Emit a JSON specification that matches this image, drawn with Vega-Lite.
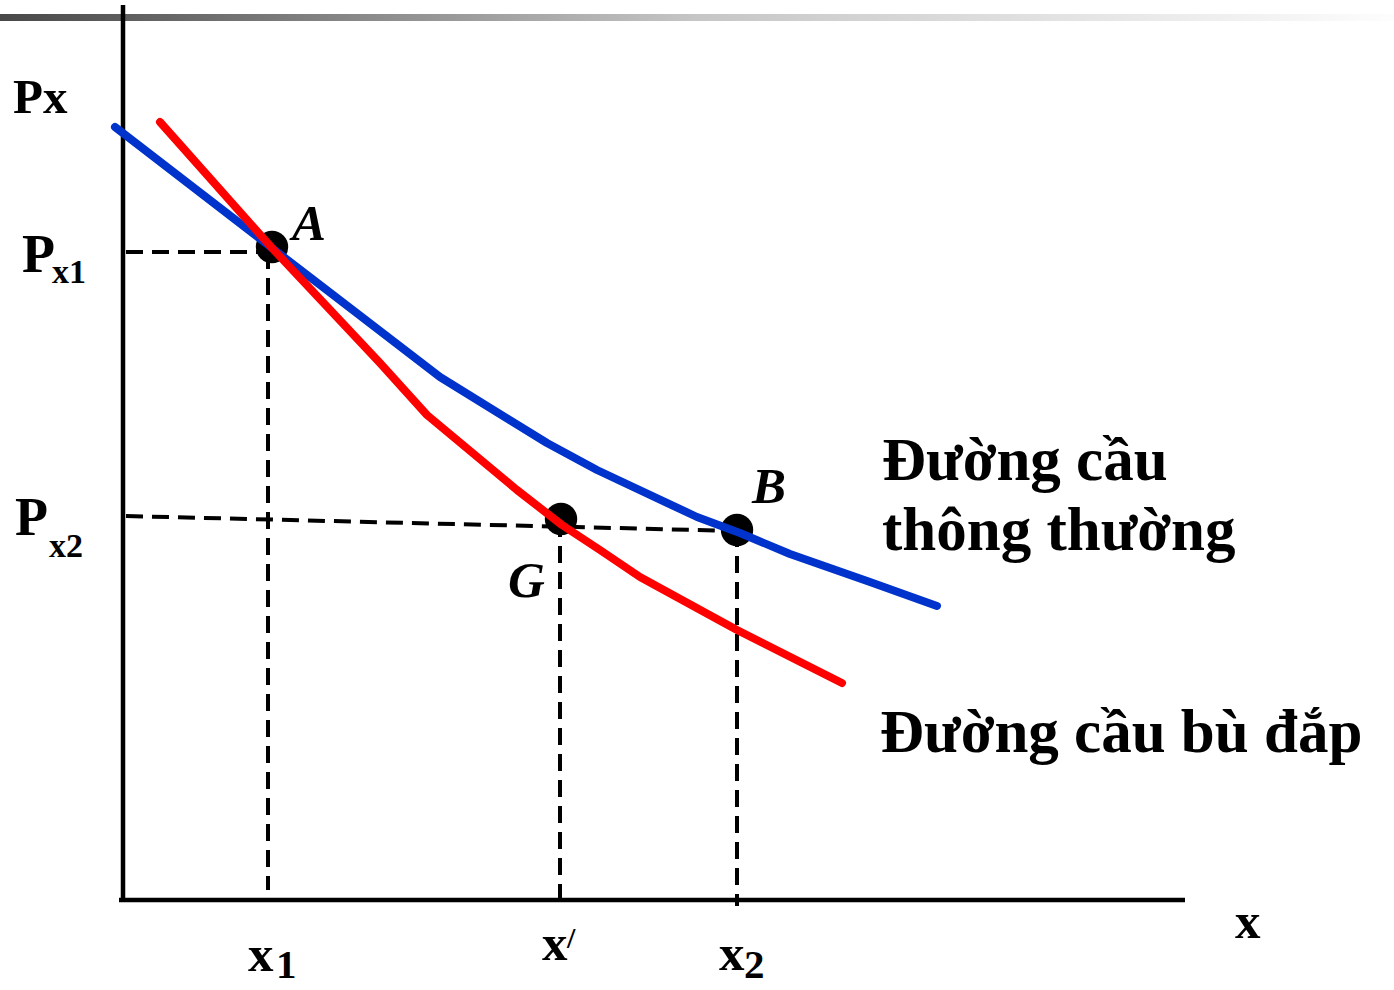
{
  "$schema": "https://vega.github.io/schema/vega-lite/v6.json",
  "width": 1394,
  "height": 990,
  "padding": 0,
  "autosize": {"type": "none"},
  "background": "white",
  "config": {"view": {"stroke": null}},
  "datasets": {
    "bar": [{"x": -122, "x2": 1272, "y": 886, "y2": 879}],
    "axes": [
      {"x": 1, "x2": 1, "y": 895, "y2": -2},
      {"x": -3, "x2": 1063, "y": 0, "y2": 0}
    ],
    "guides": [
      {"x": 4, "x2": 146, "y": 648, "y2": 648},
      {"x": 146, "x2": 146, "y": 648, "y2": 10},
      {"x": 4, "x2": 615, "y": 384, "y2": 369},
      {"x": 438, "x2": 438, "y": 380, "y2": 0},
      {"x": 615, "x2": 615, "y": 370, "y2": -6}
    ],
    "points": [
      {"name": "A", "x": 150, "y": 653},
      {"name": "G", "x": 439, "y": 381},
      {"name": "B", "x": 615, "y": 370}
    ],
    "curves": [
      {"curve": "normal", "x": -7, "y": 773},
      {"curve": "normal", "x": 150, "y": 652},
      {"curve": "normal", "x": 318, "y": 523},
      {"curve": "normal", "x": 425, "y": 457},
      {"curve": "normal", "x": 475, "y": 430},
      {"curve": "normal", "x": 575, "y": 383},
      {"curve": "normal", "x": 618, "y": 367},
      {"curve": "normal", "x": 668, "y": 346},
      {"curve": "normal", "x": 748, "y": 318},
      {"curve": "normal", "x": 815, "y": 294},
      {"curve": "comp", "x": 38, "y": 778},
      {"curve": "comp", "x": 150, "y": 652},
      {"curve": "comp", "x": 258, "y": 537},
      {"curve": "comp", "x": 305, "y": 485},
      {"curve": "comp", "x": 395, "y": 410},
      {"curve": "comp", "x": 440, "y": 375},
      {"curve": "comp", "x": 478, "y": 350},
      {"curve": "comp", "x": 518, "y": 323},
      {"curve": "comp", "x": 615, "y": 270},
      {"curve": "comp", "x": 720, "y": 217}
    ],
    "labels": [
      {"role": "big", "text": "Đường cầu", "x": 760, "y": 420},
      {"role": "big", "text": "thông thường", "x": 760, "y": 350},
      {"role": "big", "text": "Đường cầu bù đắp", "x": 758, "y": 148},
      {"role": "P", "text": "P", "x": -100, "y": 628},
      {"role": "P", "text": "P", "x": -107, "y": 365},
      {"role": "Px", "text": "Px", "x": -109, "y": 787},
      {"role": "xmain", "text": "x", "x": 126, "y": -71},
      {"role": "xmain", "text": "x", "x": 420, "y": -60},
      {"role": "xmain", "text": "x", "x": 597, "y": -70},
      {"role": "xmain", "text": "x", "x": 1113, "y": -38},
      {"role": "psub", "text": "x1", "x": -70, "y": 617},
      {"role": "psub", "text": "x2", "x": -73, "y": 343},
      {"role": "xsub", "text": "1", "x": 154, "y": -78},
      {"role": "xsub", "text": "2", "x": 622, "y": -78},
      {"role": "prime", "text": "/", "x": 445, "y": -48},
      {"role": "pt", "text": "A", "x": 170, "y": 660},
      {"role": "pt", "text": "B", "x": 630, "y": 397},
      {"role": "pt", "text": "G", "x": 386, "y": 303}
    ]
  },
  "encoding": {
    "x": {"field": "x", "type": "quantitative", "scale": {"domain": [-122, 1272], "nice": false, "zero": false}, "axis": null},
    "y": {"field": "y", "type": "quantitative", "scale": {"domain": [-90, 900], "nice": false, "zero": false}, "axis": null}
  },
  "layer": [
    {
      "data": {"name": "bar"},
      "mark": {"type": "rect", "fill": {"gradient": "linear", "x1": 0, "y1": 0, "x2": 1, "y2": 0, "stops": [{"offset": 0, "color": "#484848"}, {"offset": 0.5, "color": "#c6c6c6"}, {"offset": 1, "color": "#fdfdfd"}]}},
      "encoding": {"x2": {"field": "x2"}, "y2": {"field": "y2"}}
    },
    {
      "data": {"name": "axes"},
      "mark": {"type": "rule", "color": "black", "strokeWidth": 4.5},
      "encoding": {"x2": {"field": "x2"}, "y2": {"field": "y2"}}
    },
    {
      "data": {"name": "guides"},
      "mark": {"type": "rule", "color": "black", "strokeWidth": 4, "strokeDash": [17, 9]},
      "encoding": {"x2": {"field": "x2"}, "y2": {"field": "y2"}}
    },
    {
      "data": {"name": "points"},
      "mark": {"type": "point", "filled": true, "shape": "circle", "color": "black", "size": 1050, "opacity": 1}
    },
    {
      "data": {"name": "curves"},
      "mark": {"type": "line", "strokeWidth": 8, "strokeCap": "round", "strokeJoin": "round", "interpolate": "linear"},
      "encoding": {
        "color": {"field": "curve", "type": "nominal", "scale": {"domain": ["normal", "comp"], "range": ["#0033cc", "#ff0000"]}, "legend": null}
      }
    },
    {
      "data": {"name": "labels"},
      "transform": [{"filter": "datum.role == 'big'"}],
      "mark": {"type": "text", "font": "Liberation Serif", "fontWeight": "bold", "fontSize": 61, "align": "left", "baseline": "alphabetic", "color": "black"},
      "encoding": {"text": {"field": "text"}}
    },
    {
      "data": {"name": "labels"},
      "transform": [{"filter": "datum.role == 'P'"}],
      "mark": {"type": "text", "font": "Liberation Serif", "fontWeight": "bold", "fontSize": 54, "align": "left", "baseline": "alphabetic", "color": "black"},
      "encoding": {"text": {"field": "text"}}
    },
    {
      "data": {"name": "labels"},
      "transform": [{"filter": "datum.role == 'Px'"}],
      "mark": {"type": "text", "font": "Liberation Serif", "fontWeight": "bold", "fontSize": 49, "align": "left", "baseline": "alphabetic", "color": "black"},
      "encoding": {"text": {"field": "text"}}
    },
    {
      "data": {"name": "labels"},
      "transform": [{"filter": "datum.role == 'xmain'"}],
      "mark": {"type": "text", "font": "Liberation Serif", "fontWeight": "bold", "fontSize": 51, "align": "left", "baseline": "alphabetic", "color": "black"},
      "encoding": {"text": {"field": "text"}}
    },
    {
      "data": {"name": "labels"},
      "transform": [{"filter": "datum.role == 'psub'"}],
      "mark": {"type": "text", "font": "Liberation Serif", "fontWeight": "bold", "fontSize": 34, "align": "left", "baseline": "alphabetic", "color": "black"},
      "encoding": {"text": {"field": "text"}}
    },
    {
      "data": {"name": "labels"},
      "transform": [{"filter": "datum.role == 'xsub'"}],
      "mark": {"type": "text", "font": "Liberation Serif", "fontWeight": "bold", "fontSize": 41, "align": "left", "baseline": "alphabetic", "color": "black"},
      "encoding": {"text": {"field": "text"}}
    },
    {
      "data": {"name": "labels"},
      "transform": [{"filter": "datum.role == 'prime'"}],
      "mark": {"type": "text", "font": "Liberation Serif", "fontWeight": "bold", "fontSize": 30, "align": "left", "baseline": "alphabetic", "color": "black"},
      "encoding": {"text": {"field": "text"}}
    },
    {
      "data": {"name": "labels"},
      "transform": [{"filter": "datum.role == 'pt'"}],
      "mark": {"type": "text", "font": "Liberation Serif", "fontWeight": "bold", "fontStyle": "italic", "fontSize": 51, "align": "left", "baseline": "alphabetic", "color": "black"},
      "encoding": {"text": {"field": "text"}}
    }
  ]
}
